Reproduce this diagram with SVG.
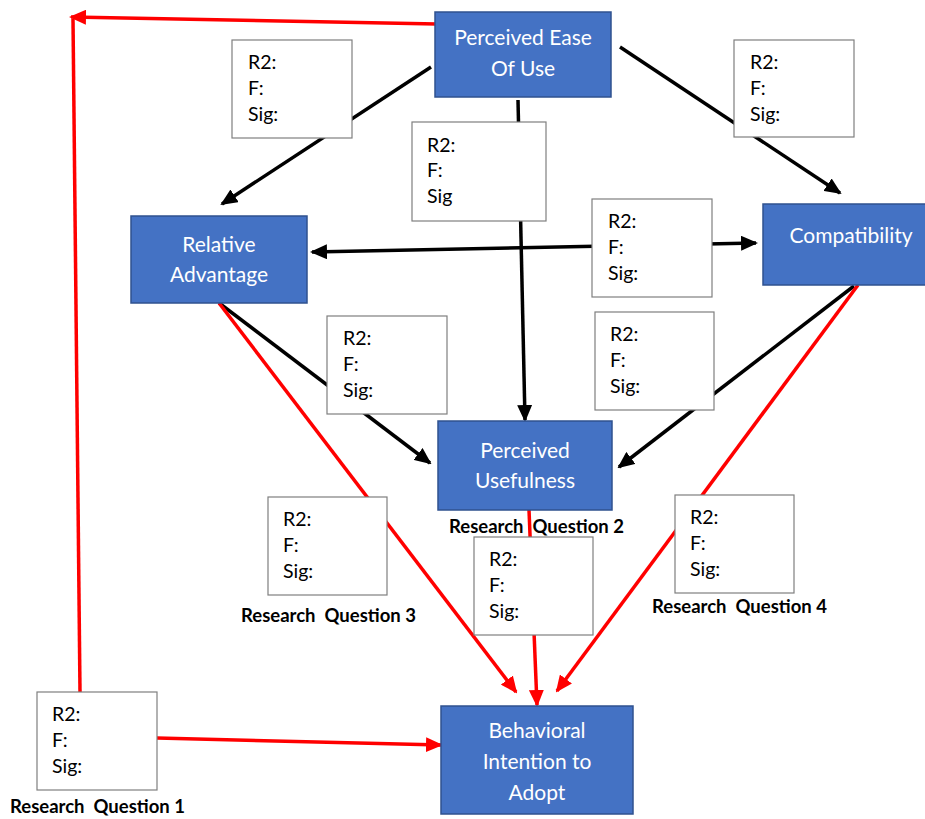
<svg xmlns="http://www.w3.org/2000/svg" width="925" height="819" viewBox="0 0 925 819">
<style>
.node rect{fill:#4472C4;stroke:#2F528F;stroke-width:1.5}
.node text{font-family:Lato,"Liberation Sans",sans-serif;font-size:21px;fill:#fff;text-anchor:middle}
.lbl rect{fill:#fff;stroke:#7F7F7F;stroke-width:1.2}
.lbl text{font-family:Lato,"Liberation Sans",sans-serif;font-size:19.5px;fill:#000}
.rq{font-family:Lato,"Liberation Sans",sans-serif;font-size:18.5px;font-weight:bold;fill:#000}
.blk{stroke:#000;stroke-width:3.5;fill:none}
.red{stroke:#FF0000;stroke-width:3.5;fill:none}
</style>
<defs>
<marker id="ab" markerUnits="userSpaceOnUse" markerWidth="17" markerHeight="15" refX="15" refY="7.5" orient="auto-start-reverse"><path d="M0,0 L17,7.5 L0,15 z" fill="#000"/></marker>
<marker id="ar" markerUnits="userSpaceOnUse" markerWidth="17" markerHeight="15" refX="15" refY="7.5" orient="auto-start-reverse"><path d="M0,0 L17,7.5 L0,15 z" fill="#FF0000"/></marker>
</defs>
<rect width="925" height="819" fill="#fff"/>
<g id="connectors">
<line class="blk" x1="431" y1="67" x2="222" y2="204" marker-end="url(#ab)"/>
<line class="blk" x1="620" y1="47" x2="840" y2="193" marker-end="url(#ab)"/>
<line class="blk" x1="518" y1="100" x2="525" y2="420" marker-end="url(#ab)"/>
<line class="blk" x1="312" y1="252" x2="756" y2="243" marker-start="url(#ab)" marker-end="url(#ab)"/>
<line class="blk" x1="219" y1="303" x2="430" y2="463" marker-end="url(#ab)"/>
<line class="blk" x1="854" y1="286" x2="619" y2="467" marker-end="url(#ab)"/>
<line class="red" x1="437" y1="24" x2="71" y2="17" marker-end="url(#ar)"/>
<line class="red" x1="80" y1="692" x2="73" y2="19"/>
<line class="red" x1="157" y1="738" x2="441" y2="745" marker-end="url(#ar)"/>
<line class="red" x1="219" y1="303" x2="516" y2="692" marker-end="url(#ar)"/>
<line class="red" x1="529" y1="510" x2="537" y2="705" marker-end="url(#ar)"/>
<line class="red" x1="858" y1="285" x2="557" y2="691" marker-end="url(#ar)"/>
</g>
<g id="lbl-a" class="lbl"><rect x="232" y="40" width="120" height="98"/><text x="248" y="69">R2:</text><text x="248" y="95">F:</text><text x="248" y="121">Sig:</text></g>
<g id="lbl-b" class="lbl"><rect x="412" y="122" width="134" height="99"/><text x="427" y="152">R2:</text><text x="427" y="177">F:</text><text x="427" y="203">Sig</text></g>
<g id="lbl-c" class="lbl"><rect x="734" y="40" width="120" height="97"/><text x="750" y="69">R2:</text><text x="750" y="95">F:</text><text x="750" y="121">Sig:</text></g>
<g id="lbl-d" class="lbl"><rect x="592" y="199" width="120" height="98"/><text x="608" y="228">R2:</text><text x="608" y="254">F:</text><text x="608" y="280">Sig:</text></g>
<g id="lbl-e" class="lbl"><rect x="327" y="316" width="120" height="98"/><text x="343" y="345">R2:</text><text x="343" y="371">F:</text><text x="343" y="397">Sig:</text></g>
<g id="lbl-f" class="lbl"><rect x="595" y="312" width="119" height="98"/><text x="610" y="341">R2:</text><text x="610" y="367">F:</text><text x="610" y="393">Sig:</text></g>
<g id="lbl-g" class="lbl"><rect x="268" y="497" width="119" height="98"/><text x="283" y="526">R2:</text><text x="283" y="552">F:</text><text x="283" y="578">Sig:</text></g>
<g id="lbl-h" class="lbl"><rect x="474" y="537" width="119" height="98"/><text x="489" y="566">R2:</text><text x="489" y="592">F:</text><text x="489" y="618">Sig:</text></g>
<g id="lbl-i" class="lbl"><rect x="675" y="495" width="119" height="98"/><text x="690" y="524">R2:</text><text x="690" y="550">F:</text><text x="690" y="576">Sig:</text></g>
<g id="lbl-j" class="lbl"><rect x="37" y="692" width="120" height="98"/><text x="52" y="721">R2:</text><text x="52" y="747">F:</text><text x="52" y="773">Sig:</text></g>
<g id="rq-labels">
<text class="rq" x="449" y="533">Research&#160; Question 2</text>
<text class="rq" x="241" y="622">Research&#160; Question 3</text>
<text class="rq" x="652" y="613">Research&#160; Question 4</text>
<text class="rq" x="10" y="813">Research&#160; Question 1</text>
</g>
<g id="peou" class="node"><rect x="435" y="12" width="176" height="85"/><text x="523" y="45">Perceived Ease</text><text x="523" y="76">Of Use</text></g>
<g id="ra" class="node"><rect x="131" y="216" width="176" height="87"/><text x="219" y="252">Relative</text><text x="219" y="282">Advantage</text></g>
<g id="compat" class="node"><rect x="763" y="204" width="176" height="81"/><text x="851" y="243">Compatibility</text></g>
<g id="pu" class="node"><rect x="438" y="421" width="174" height="89"/><text x="525" y="458">Perceived</text><text x="525" y="488">Usefulness</text></g>
<g id="bi" class="node"><rect x="441" y="706" width="192" height="108"/><text x="537" y="738">Behavioral</text><text x="537" y="769">Intention to</text><text x="537" y="800">Adopt</text></g>
</svg>
